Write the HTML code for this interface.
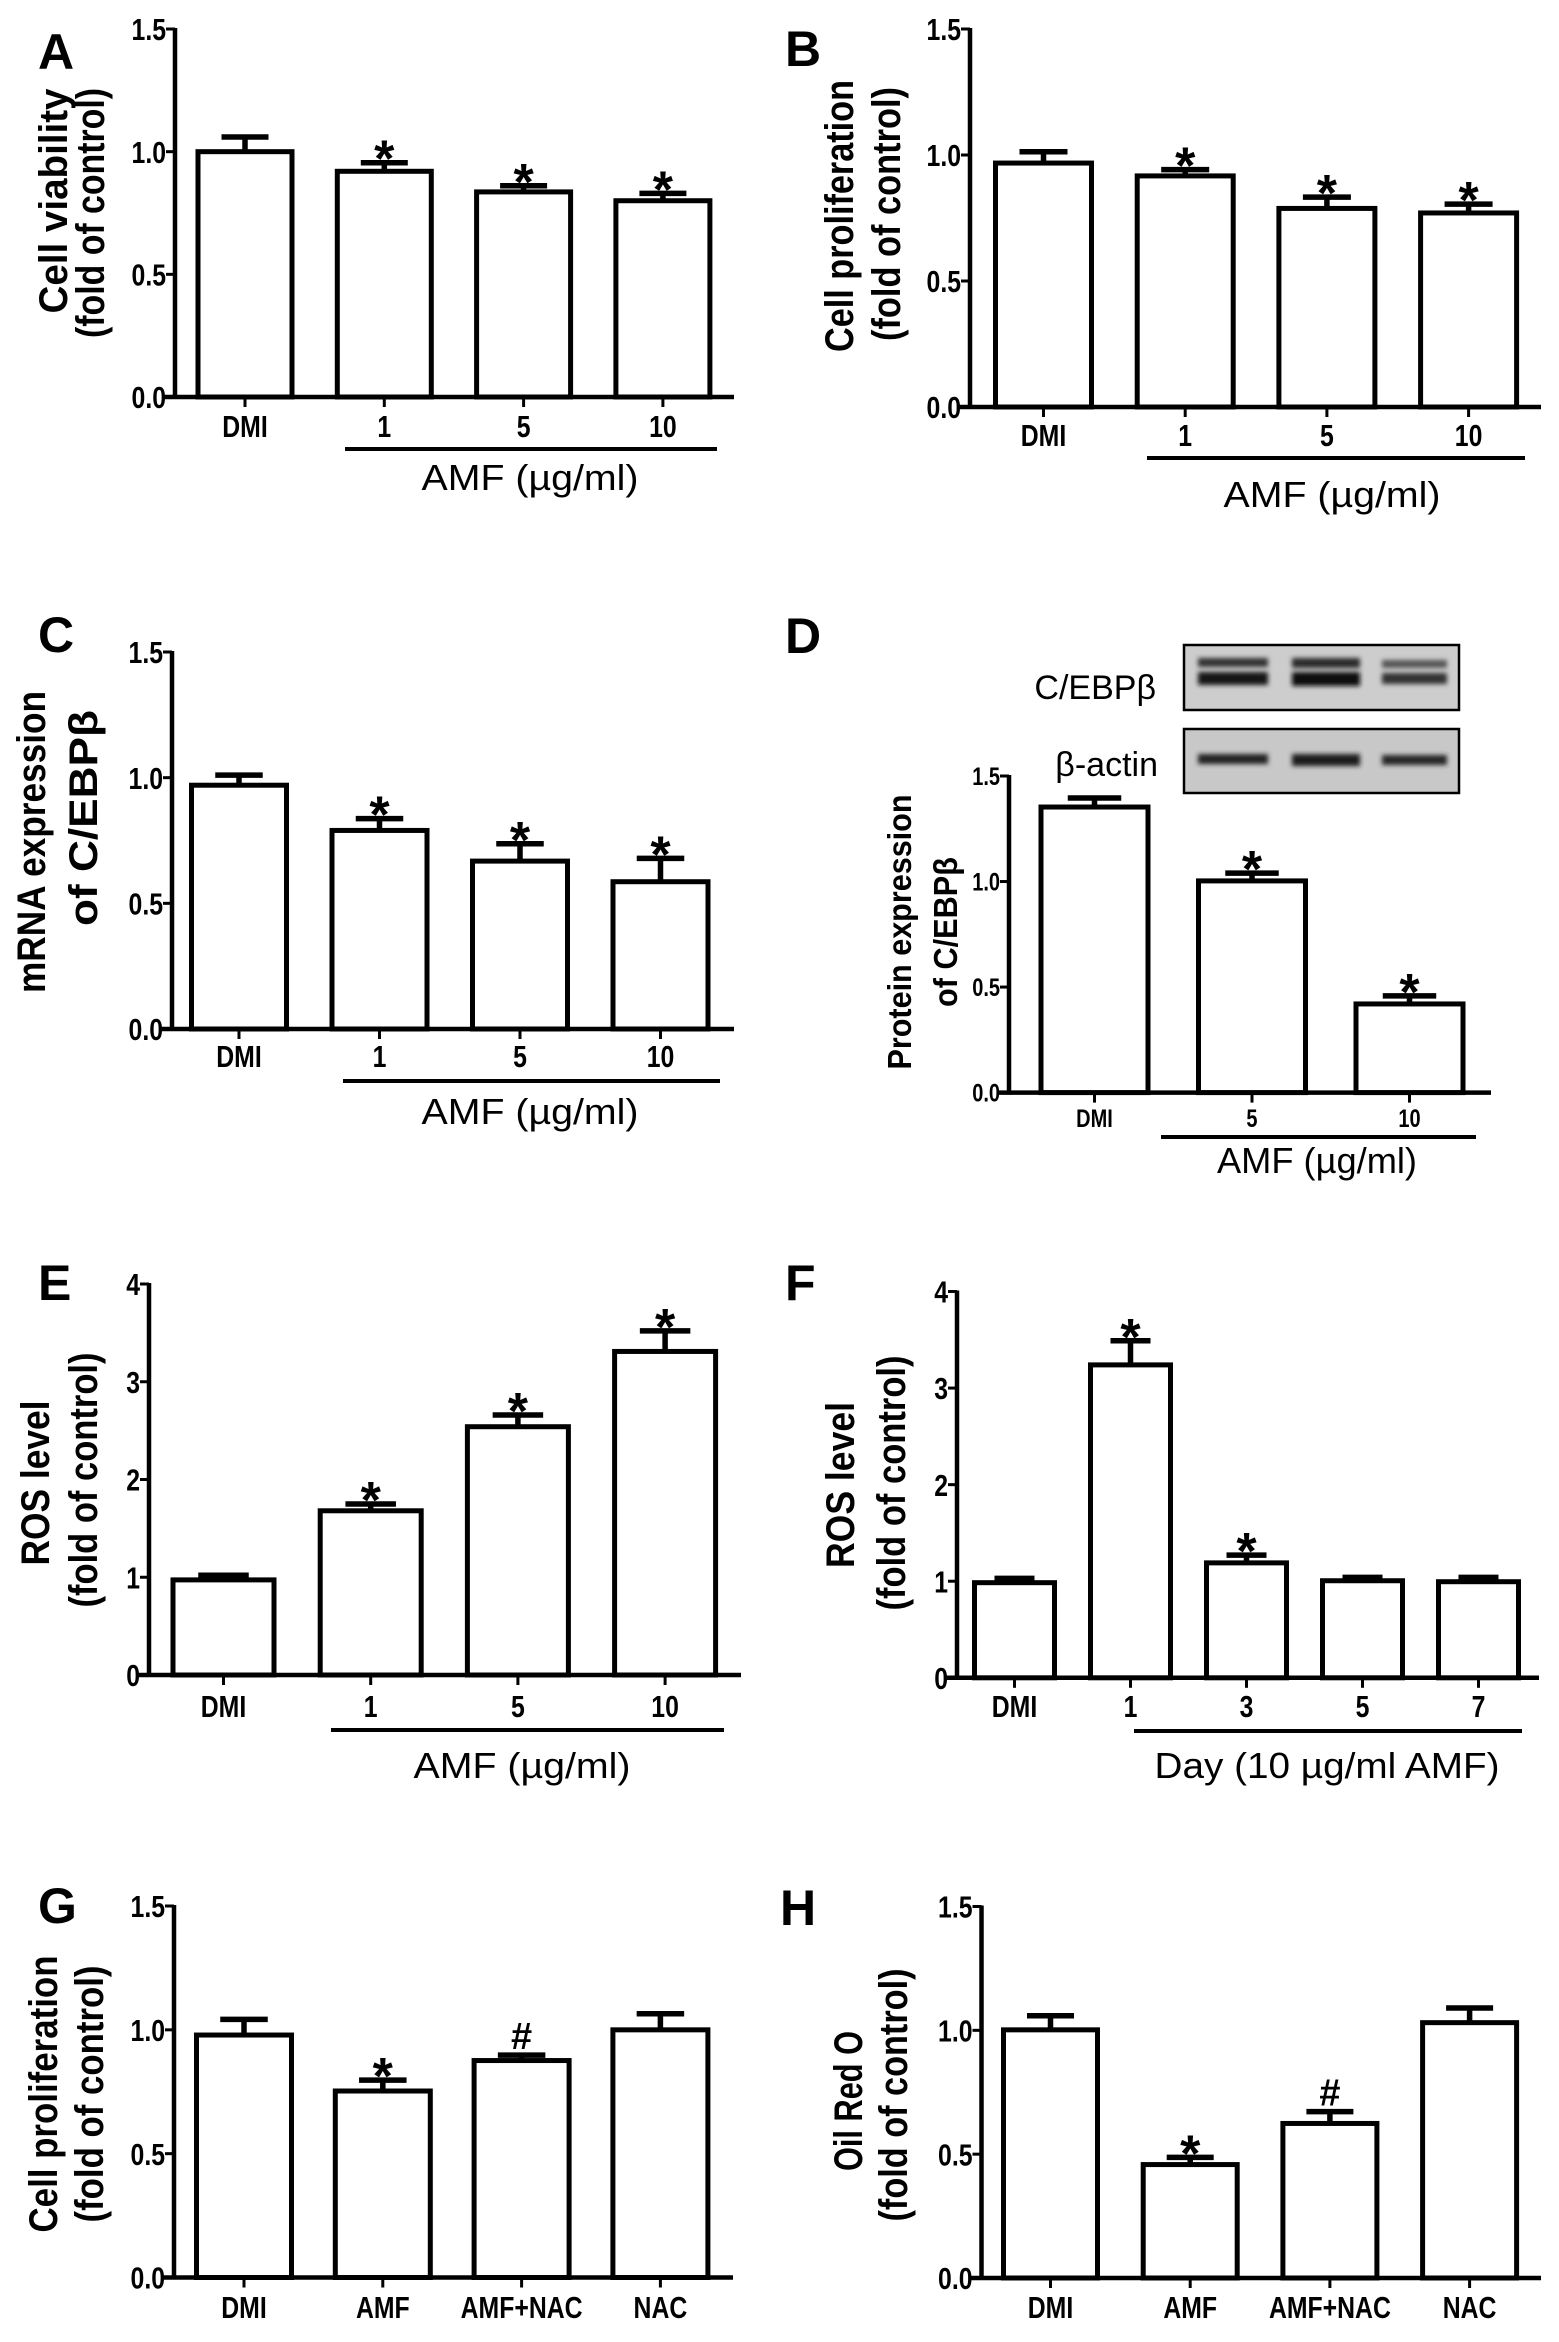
<!DOCTYPE html>
<html><head><meta charset="utf-8"><style>
html,body{margin:0;padding:0;background:#fff;}
svg{display:block;}
text{font-family:"Liberation Sans",sans-serif;fill:#000;}
</style></head><body>
<svg id="fig" width="1559" height="2342" viewBox="0 0 1559 2342" xmlns="http://www.w3.org/2000/svg">
<defs>
<filter id="blur1"><feGaussianBlur stdDeviation="2.4"/></filter>
</defs>
<g>
<rect x="1184" y="645" width="275" height="65" fill="#cdcdcd" stroke="#000" stroke-width="2.5"/>
<rect x="1184" y="729" width="275" height="64" fill="#c8c8c8" stroke="#000" stroke-width="2.5"/>
<g filter="url(#blur1)">
<rect x="1198" y="658" width="70" height="9" fill="#333"/><rect x="1198" y="672" width="70" height="13" fill="#151515"/>
<rect x="1292" y="658" width="68" height="10" fill="#2a2a2a"/><rect x="1292" y="672" width="68" height="14" fill="#111"/>
<rect x="1382" y="660" width="65" height="8" fill="#555"/><rect x="1382" y="673" width="65" height="11" fill="#333"/>
<rect x="1198" y="754" width="70" height="10" fill="#222"/>
<rect x="1292" y="754" width="68" height="12" fill="#1a1a1a"/>
<rect x="1382" y="755" width="65" height="10" fill="#262626"/>
</g>
<text x="1156" y="699" text-anchor="end" font-size="34">C/EBPβ</text>
<text x="1158" y="776" text-anchor="end" font-size="34">β-actin</text>
</g>
</svg>
<script>
// ---- data ----
const catsA = ["DMI","1","5","10"];
const valsA = [1.0, 0.92, 0.836, 0.80];
const errA  = [0.06, 0.035, 0.025, 0.03];
const marksA = ["","*","*","*"];

const catsB = ["DMI","1","5","10"];
const valsB = [0.968, 0.917, 0.788, 0.77];
const errB  = [0.045, 0.025, 0.045, 0.035];
const marksB = ["","*","*","*"];

const catsC = ["DMI","1","5","10"];
const valsC = [0.97, 0.79, 0.668, 0.586];
const errC  = [0.04, 0.047, 0.069, 0.093];
const marksC = ["","*","*","*"];

const catsD = ["DMI","5","10"];
const valsD = [1.353, 1.003, 0.42];
const errD  = [0.043, 0.037, 0.038];
const marksD = ["","*","*"];

const catsE = ["DMI","1","5","10"];
const valsE = [0.973, 1.68, 2.54, 3.31];
const errE  = [0.047, 0.07, 0.12, 0.21];
const marksE = ["","*","*","*"];

const catsF = ["DMI","1","3","5","7"];
const valsF = [0.985, 3.24, 1.19, 1.005, 0.995];
const errF  = [0.045, 0.25, 0.08, 0.035, 0.045];
const marksF = ["","*","*","",""];

const catsG = ["DMI","AMF","AMF+NAC","NAC"];
const valsG = [0.979, 0.753, 0.876, 1.0];
const errG  = [0.063, 0.044, 0.022, 0.065];
const marksG = ["","*","#",""];

const catsH = ["DMI","AMF","AMF+NAC","NAC"];
const valsH = [1.002, 0.458, 0.624, 1.031];
const errH  = [0.057, 0.029, 0.048, 0.059];
const marksH = ["","*","#",""];

const ticks15 = ["0.0","0.5","1.0","1.5"];
const tickVals15 = [0, 0.5, 1.0, 1.5];
const ticks4 = ["0","1","2","3","4"];
const tickVals4 = [0, 1, 2, 3, 4];

// ---- layout ----
const panels = [
 {id:"a",letter:"A",lx:38,ly:69,ax:175,yTop:29,y0:397,ax2:734,ymax:1.5,tl:ticks15,tv:tickVals15,
  cats:catsA,vals:valsA,errs:errA,marks:marksA,c0:245,step:139.3,bw:94,lblY:437,
  ul:[345,717,449],grp:"AMF (µg/ml)",gx:530,gy:490,gw:217,
  t1:"Cell viability",t2:"(fold of control)",b1:75,b2:111,cy1:201,cy2:213,w1:225,w2:250,tf:40,fs:31},
 {id:"b",letter:"B",lx:785,ly:66,ax:970,yTop:29,y0:407,ax2:1541,ymax:1.5,tl:ticks15,tv:tickVals15,
  cats:catsB,vals:valsB,errs:errB,marks:marksB,c0:1043.5,step:141.7,bw:96,lblY:446,
  ul:[1147,1525,458],grp:"AMF (µg/ml)",gx:1332,gy:507,gw:217,
  t1:"Cell proliferation",t2:"(fold of control)",b1:861,b2:907,cy1:216,cy2:214,w1:272,w2:254,tf:40,fs:31},
 {id:"c",letter:"C",lx:38,ly:652,ax:172,yTop:652,y0:1029,ax2:734,ymax:1.5,tl:ticks15,tv:tickVals15,
  cats:catsC,vals:valsC,errs:errC,marks:marksC,c0:239,step:140.5,bw:95,lblY:1067,
  ul:[343,720,1081],grp:"AMF (µg/ml)",gx:530,gy:1124,gw:217,
  t1:"mRNA expression",t2:"of C/EBPβ",b1:53,b2:104,cy1:842,cy2:818,w1:302,w2:216,tf:40,fs:31},
 {id:"d",letter:"D",lx:785,ly:653,ax:1009,yTop:776,y0:1092.6,ax2:1491,ymax:1.5,tl:ticks15,tv:tickVals15,
  cats:catsD,vals:valsD,errs:errD,marks:marksD,c0:1094.5,step:157.5,bw:107,lblY:1127,
  ul:[1161,1476,1137],grp:"AMF (µg/ml)",gx:1317,gy:1173,gw:200,
  t1:"Protein expression",t2:"of C/EBPβ",b1:919,b2:964,cy1:932,cy2:932,w1:275,w2:150,tf:33,fs:25},
 {id:"e",letter:"E",lx:38,ly:1300,ax:149,yTop:1284,y0:1675,ax2:741,ymax:4,tl:ticks4,tv:tickVals4,
  cats:catsE,vals:valsE,errs:errE,marks:marksE,c0:223.5,step:147.2,bw:101,lblY:1717,
  ul:[331,724,1730],grp:"AMF (µg/ml)",gx:522,gy:1778,gw:217,
  t1:"ROS level",t2:"(fold of control)",b1:57,b2:104,cy1:1483,cy2:1480,w1:165,w2:255,tf:40,fs:31},
 {id:"f",letter:"F",lx:785,ly:1300,ax:957,yTop:1291.5,y0:1677.8,ax2:1539,ymax:4,tl:ticks4,tv:tickVals4,
  cats:catsF,vals:valsF,errs:errF,marks:marksF,c0:1014.5,step:116,bw:80,lblY:1717,
  ul:[1134,1522,1731],grp:"Day (10 µg/ml AMF)",gx:1327,gy:1778,gw:345,
  t1:"ROS level",t2:"(fold of control)",b1:862,b2:912,cy1:1485,cy2:1483,w1:166,w2:255,tf:40,fs:31},
 {id:"g",letter:"G",lx:38,ly:1923,ax:174,yTop:1906,y0:2277.5,ax2:733,ymax:1.5,tl:ticks15,tv:tickVals15,
  cats:catsG,vals:valsG,errs:errG,marks:marksG,c0:244,step:138.8,bw:95,lblY:2318,
  ul:null,t1:"Cell proliferation",t2:"(fold of control)",b1:65,b2:110,cy1:2094,cy2:2094,w1:277,w2:257,tf:40,fs:31},
 {id:"h",letter:"H",lx:780,ly:1925,ax:981.5,yTop:1906.5,y0:2278,ax2:1541,ymax:1.5,tl:ticks15,tv:tickVals15,
  cats:catsH,vals:valsH,errs:errH,marks:marksH,c0:1050.5,step:139.7,bw:94,lblY:2318,
  ul:null,t1:"Oil Red O",t2:"(fold of control)",b1:870,b2:914,cy1:2101,cy2:2095,w1:140,w2:253,tf:40,fs:31}
];

const NS = "http://www.w3.org/2000/svg";
const svg = document.getElementById("fig");
function mk(tag, attrs, parent){
  const e = document.createElementNS(NS, tag);
  for (const k in attrs) e.setAttribute(k, attrs[k]);
  parent.appendChild(e);
  return e;
}

panels.forEach(p => {
  const g = mk("g", {}, svg);
  
  
  const yS = v => p.y0 - (p.y0 - p.yTop) * v / p.ymax;
  const xS = i => p.c0 + i * p.step;

  const L = mk("text", {x:p.lx, y:p.ly, "font-size":50, "font-weight":"bold"}, g);
  L.textContent = p.letter;
  
  

  p.vals.forEach((v, i) => {
    const cx = xS(i), top = yS(v);
    const r = mk("rect", {x:cx - p.bw/2, y:top, width:p.bw, height:p.y0 - top, fill:"#fff", stroke:"#000", "stroke-width":5}, g);
    
    
    const et = yS(v + p.errs[i]);
    const eb = mk("path", {d:`M${cx} ${top} V${et} M${cx - p.bw*0.25} ${et} H${cx + p.bw*0.25}`, stroke:"#000", "stroke-width":5.5, fill:"none"}, g);
    
    
    if (p.marks[i]) {
      const star = p.marks[i] === "*";
      const m = mk("text", {x:cx, y: star ? et + 14 : et - 6, "text-anchor":"middle", "font-size": star ? 52 : 38, "font-weight":"bold"}, g);
      m.textContent = p.marks[i];
      
      
    }
  });

  const ya = mk("line", {x1:p.ax, y1:p.yTop - 1, x2:p.ax, y2:p.y0 + 2, stroke:"#000", "stroke-width":4.5}, g);
  
  
  const xa = mk("line", {x1:p.ax - 12, y1:p.y0, x2:p.ax2, y2:p.y0, stroke:"#000", "stroke-width":4.5}, g);
  
  

  p.tv.forEach((tv, j) => {
    const y = yS(tv);
    mk("line", {x1:p.ax - 9, y1:y, x2:p.ax, y2:y, stroke:"#000", "stroke-width":3}, g);
    const t = mk("text", {transform:`translate(${p.ax - 9},${y + p.fs*0.36}) scale(0.8,1)`, "text-anchor":"end", "font-size":p.fs, "font-weight":"bold"}, g);
    t.textContent = p.tl[j];
    
    
  });

  p.cats.forEach((c, i) => {
    const x = xS(i);
    mk("line", {x1:x, y1:p.y0, x2:x, y2:p.y0 + 10, stroke:"#000", "stroke-width":3}, g);
    const t = mk("text", {transform:`translate(${x},${p.lblY}) scale(0.8,1)`, "text-anchor":"middle", "font-size":p.fs, "font-weight":"bold"}, g);
    t.textContent = c;
    
    
  });

  if (p.ul) {
    const u = mk("line", {x1:p.ul[0], y1:p.ul[2], x2:p.ul[1], y2:p.ul[2], stroke:"#000", "stroke-width":4}, g);
    
    
    const gt = mk("text", {x:p.gx, y:p.gy, "text-anchor":"middle", "font-size":36, textLength:p.gw, lengthAdjust:"spacingAndGlyphs"}, g);
    gt.textContent = p.grp;
    
    
  }

  const t1 = mk("text", {transform:`translate(${p.b1 - 8},${p.cy1}) rotate(-90)`, "text-anchor":"middle", "font-size":p.tf, "font-weight":"bold", textLength:p.w1, lengthAdjust:"spacingAndGlyphs"}, g);
  t1.textContent = p.t1;
  
  
  const t2 = mk("text", {transform:`translate(${p.b2 - 7},${p.cy2}) rotate(-90)`, "text-anchor":"middle", "font-size":p.tf, "font-weight":"bold", textLength:p.w2, lengthAdjust:"spacingAndGlyphs"}, g);
  t2.textContent = p.t2;
  
  
});
</script>
</body></html>
